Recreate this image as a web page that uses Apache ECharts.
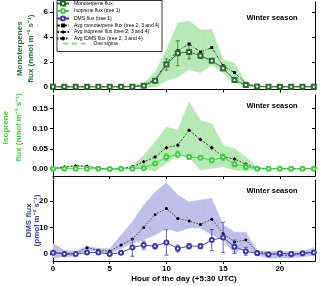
<!DOCTYPE html>
<html><head><meta charset="utf-8">
<script src="https://cdn.jsdelivr.net/npm/echarts@6/dist/echarts.min.js"></script>
<style>html,body{margin:0;padding:0;background:#fff}#c{width:320px;height:286px}</style>
</head><body><div id="c"></div>
<script>
// ---------- data ----------
const hours = [0,1,2,3,4,5,6,7,8,9,10,11,12,13,14,15,16,17,18,19,20,21,22,23];
const xTicks = [0,5,10,15,20];

// Panel 1: monoterpenes (nmol m-2 s-1)
const monoTree1    = [0.02,0.02,0.02,0.02,0.02,0.02,0.02,0.03,0.10,0.50,1.80,2.70,2.80,2.50,2.10,1.50,0.56,0.16,0.05,0.03,0.02,0.02,0.03,0.03];
const monoTree1Err = [0,0,0,0,0,0,0,0,0,0.15,0.45,1.00,0.55,0.20,0.10,0.20,0.10,0,0,0,0,0,0,0];
const monoAvg      = [0.02,0.02,0.02,0.02,0.02,0.02,0.02,0.05,0.15,0.60,1.90,2.90,3.44,2.80,3.15,1.70,1.15,0.30,0.05,0.02,0.02,0.02,0.02,0.02];
const monoSigUp    = [0.05,0.05,0.05,0.05,0.05,0.05,0.05,0.10,0.30,1.20,3.00,5.10,5.30,4.56,4.60,2.20,1.90,0.35,0.10,0.08,0.08,0.08,0.08,0.08];
const monoSigLo    = [-0.03,-0.03,-0.03,-0.03,-0.03,-0.03,-0.03,0,0,0,0.50,0.80,1.40,1.15,1.76,1.15,0.35,0.05,-0.03,-0.03,-0.03,-0.03,-0.03,-0.03];
const monoTicks = [0,2,4,6];

// Panel 2: isoprene (nmol m-2 s-1)
const isoTree1    = [0.001,0.001,0.001,0.001,0.001,0,0.001,0.001,0.003,0.014,0.030,0.036,0.030,0.028,0.022,0.029,0.012,0.006,0.001,0.001,0.001,0.001,0.001,0.001];
const isoTree1Err = [0,0,0,0,0,0,0,0,0,0.004,0.008,0.008,0.006,0.005,0.006,0.008,0.006,0.007,0,0,0,0,0,0];
const isoAvg      = [0.002,0.005,0.008,0.007,0.002,0,0.001,0.006,0.018,0.030,0.053,0.059,0.096,0.073,0.053,0.030,0.025,0.012,0.002,0.001,0.001,0.001,0.001,0.002];
const isoSigUp    = [0.004,0.007,0.010,0.009,0.004,0.002,0.003,0.008,0.034,0.067,0.104,0.096,0.166,0.120,0.112,0.059,0.051,0.030,0.005,0.002,0.002,0.002,0.002,0.003];
const isoSigLo    = [0,0.003,0.006,0.005,0,-0.002,-0.001,0.004,0,-0.005,0.015,0.034,0.030,-0.003,0.002,0.006,-0.002,-0.005,-0.001,0,0,0,0,0];
const isoTicks = [0,0.05,0.10,0.15];

// Panel 3: DMS (pmol m-2 s-1)
const dmsTree1    = [0.5,0,0,0.6,0.6,0,0.5,2.5,3.4,3.0,4.4,2.1,3.0,3.0,5.3,6.3,2.8,1.1,0.3,-0.1,0.3,0,0.3,0.6];
const dmsTree1Err = [0.5,0,0,0,0,0,0,3.3,1.5,1.0,4.8,1.3,1.0,1.0,4.0,5.7,2.5,1.5,0.3,0,0,0,0,0];
const dmsAvg      = [0.9,0.2,0.2,2.4,1.5,1.1,3.4,5.7,10.1,15.0,17.2,13.5,12.5,11.2,13.2,7.8,4.6,5.3,0.9,0.3,-0.4,-0.6,0.2,0.9];
const dmsSigUp    = [4.0,1.5,1.2,3.0,2.2,2.0,7.2,12.2,18.5,23.5,27.0,22.3,19.7,20.4,21.0,11.0,8.4,8.2,1.5,1.0,1.0,1.0,1.0,2.5];
const dmsSigLo    = [-1.5,-1.0,-0.8,1.8,0.8,0.2,2.1,4.0,5.5,7.2,9.7,8.4,9.9,9.9,7.2,5.3,0.3,2.8,-0.5,-1.5,-1.5,-1.5,-1.0,-0.5];
const dmsTicks = [0,10,20];

// ---------- styling ----------
const FONT = 'Liberation Sans, Arial, sans-serif';
const C_MONO = '#2c6e36', C_ISO = '#3fcf3f', C_DMS = '#3c3ca8';
const BAND_GREEN = '#b6e9b6', BAND_BLUE = '#bfbfe9';

const grids = [
  {left:53, width:262, top:2,   height:87.5},
  {left:53, width:262, top:95,  height:81},
  {left:53, width:262, top:180, height:81}
];
const yRanges = [[-0.2,6.8],[-0.017,0.183],[-2.6,28]];
const yTicks = [monoTicks, isoTicks, dmsTicks];
const yFmt = [v=>String(v), v=>v.toFixed(2), v=>String(v)];
const yNames = ['Monoterpenes\nflux (nmol m\u207B\u00B2 s\u207B\u00B9)',
                'Isoprene\nflux (nmol m\u207B\u00B2 s\u207B\u00B9)',
                'DMS flux\n(pmol m\u207B\u00B2 s\u207B\u00B9)'];
const yNameColors = [C_MONO, C_ISO, C_DMS];
const yNameGap = [16.5, 27.5, 11.5];
const yNameLH = [11, 13, 8.5];
const yNamePad = [[0,6,0,0],[0,0,0,16],[0,0,0,0]];

const xAxes = grids.map((g,i)=>({
  type:'value', gridIndex:i, min:0, max:23.1,
  axisLine:{show:true, onZero:false, lineStyle:{color:'#000', width:1}},
  axisTick:{show:true, inside:false, length:3, customValues:xTicks, lineStyle:{color:'#000'}},
  axisLabel:{show:i===2, customValues:xTicks, margin:4, color:'#000', fontFamily:FONT, fontWeight:'bold', fontSize:8},
  splitLine:{show:false},
  name: i===2 ? 'Hour of the day (+5:30 UTC)' : '',
  nameLocation:'middle', nameGap:14,
  nameTextStyle:{color:'#000', fontFamily:FONT, fontWeight:'bold', fontSize:8}
}));

const yAxes = [];
grids.forEach((g,i)=>{
  yAxes.push({
    type:'value', gridIndex:i, position:'left', min:yRanges[i][0], max:yRanges[i][1],
    axisLine:{show:true, onZero:false, lineStyle:{color:'#000', width:1}},
    axisTick:{show:true, inside:false, length:3, customValues:yTicks[i], lineStyle:{color:'#000'}},
    axisLabel:{show:true, customValues:yTicks[i], formatter:yFmt[i], margin:5, color:'#000', fontFamily:FONT, fontWeight:'bold', fontSize:8},
    splitLine:{show:false},
    name:yNames[i], nameLocation:'middle', nameGap:yNameGap[i], nameMoveOverlap:false,
    nameTextStyle:{color:yNameColors[i], fontFamily:FONT, fontWeight:'bold', fontSize:8, lineHeight:yNameLH[i], padding:yNamePad[i]}
  });
  yAxes.push({
    type:'value', gridIndex:i, position:'right', min:yRanges[i][0], max:yRanges[i][1],
    axisLine:{show:true, onZero:false, lineStyle:{color:'#000', width:1}},
    axisTick:{show:true, inside:true, length:3, customValues:yTicks[i], lineStyle:{color:'#000'}},
    axisLabel:{show:false}, splitLine:{show:false}
  });
});

function pairs(ys){ return hours.map((h,k)=>[h, ys[k]]); }
// band segments: [x0, lo0, up0, x1, lo1, up1]
function bandData(up, lo){
  const out = [];
  for (let k = 0; k < hours.length - 1; k++) out.push([hours[k], lo[k], up[k], hours[k+1], lo[k+1], up[k+1]]);
  return out;
}
function bandRender(color){
  return function(params, api){
    const a = api.coord([api.value(0), api.value(2)]);
    const b = api.coord([api.value(3), api.value(5)]);
    const c = api.coord([api.value(3), api.value(4)]);
    const d = api.coord([api.value(0), api.value(1)]);
    return {type:'polygon', shape:{points:[a,b,c,d]}, style:{fill:color, stroke:color, lineWidth:0.5}};
  };
}
function errData(vals, errs){
  const out = [];
  hours.forEach((h,k)=>{ if (errs[k] > 0) out.push([h, vals[k]-errs[k], vals[k]+errs[k]]); });
  return out;
}
function errRender(color){
  return function(params, api){
    const x = api.value(0), lo = api.value(1), hi = api.value(2);
    const p1 = api.coord([x, lo]), p2 = api.coord([x, hi]);
    const w = 2;
    const st = {stroke:color, lineWidth:0.8};
    return {type:'group', children:[
      {type:'line', shape:{x1:p1[0], y1:p1[1], x2:p2[0], y2:p2[1]}, style:st},
      {type:'line', shape:{x1:p1[0]-w, y1:p1[1], x2:p1[0]+w, y2:p1[1]}, style:st},
      {type:'line', shape:{x1:p2[0]-w, y1:p2[1], x2:p2[0]+w, y2:p2[1]}, style:st}
    ]};
  };
}

const panels = [
  {tree:monoTree1, err:monoTree1Err, avg:monoAvg, up:monoSigUp, lo:monoSigLo, color:C_MONO, band:BAND_GREEN,
   treeName:'Monoterpene flux', avgName:'Avg monoterpene flux (tree 2, 3 and 4)', sym:'emptyRect', avgSym:'rect', dash:[3,1.5,1,1.5], avgSize:3},
  {tree:isoTree1, err:isoTree1Err, avg:isoAvg, up:isoSigUp, lo:isoSigLo, color:C_ISO, band:BAND_GREEN,
   treeName:'Isoprene flux (tree 1)', avgName:'Avg isoprene flux (tree 2, 3 and 4)', sym:'emptyCircle', avgSym:'diamond', dash:[2,1.5], avgSize:4},
  {tree:dmsTree1, err:dmsTree1Err, avg:dmsAvg, up:dmsSigUp, lo:dmsSigLo, color:C_DMS, band:BAND_BLUE,
   treeName:'DMS flux (tree 1)', avgName:'Avg IDMS flux (tree 2, 3 and 4)', sym:'emptyCircle', avgSym:'circle', dash:[1.5,1.5], avgSize:3}
];

const series = [];
panels.forEach((p,i)=>{
  const xi = i, yi = 2*i;
  series.push({type:'custom', name:'One sigma', xAxisIndex:xi, yAxisIndex:yi, data:bandData(p.up, p.lo),
    encode:{x:[0,3], y:[1,2,4,5]}, renderItem:bandRender(p.band), color:p.band, silent:true, z:1});
  series.push({type:'line', name:p.avgName, xAxisIndex:xi, yAxisIndex:yi, data:pairs(p.avg),
    symbol:p.avgSym, symbolSize:p.avgSize, color:'#000', itemStyle:{color:'#000'},
    lineStyle:{color:'#222', width:0.8, type:p.dash}, z:3});
  series.push({type:'custom', name:'err'+i, xAxisIndex:xi, yAxisIndex:yi, data:errData(p.tree, p.err),
    encode:{x:0, y:[1,2]}, renderItem:errRender(p.color), z:4, silent:true});
  series.push({type:'line', name:p.treeName, xAxisIndex:xi, yAxisIndex:yi, data:pairs(p.tree),
    symbol:p.sym, symbolSize:4, color:p.color, itemStyle:{color:p.color, borderWidth:0.8},
    lineStyle:{color:p.color, width:0.9}, z:5});
});

const legendText = {fontSize:5, lineHeight:5, color:'#000', fontFamily:FONT};
const option = {
  animation:false,
  backgroundColor:'#fff',
  grid: grids.map(g=>Object.assign({outerBoundsMode:'none'}, g)),
  xAxis: xAxes,
  yAxis: yAxes,
  legend: [
    {orient:'vertical', left:56, top:0.5, padding:0, itemWidth:12, itemHeight:5, itemGap:1.5,
     textStyle:legendText, selectedMode:false,
     data:['Monoterpene flux','Isoprene flux (tree 1)','DMS flux (tree 1)',
           'Avg monoterpene flux (tree 2, 3 and 4)','Avg isoprene flux (tree 2, 3 and 4)','Avg IDMS flux (tree 2, 3 and 4)']},
    {orient:'vertical', left:63, top:41, padding:0, itemWidth:28, itemHeight:2, itemGap:0,
     textStyle:legendText, selectedMode:false,
     data:[{name:'One sigma', icon:'path://M0,0h5v2h-5zM9,0h5v2h-5zM18,0h5v2h-5z', itemStyle:{color:'#8fd88f'}}]}
  ],
  graphic: [
    {type:'rect', shape:{x:57, y:0.5, width:105, height:51}, style:{fill:'#fff', stroke:'#000', lineWidth:0.8}, z:-1, silent:true},
    {type:'text', x:272, y:18, style:{text:'Winter season', align:'center', verticalAlign:'middle', font:'bold 7.5px Liberation Sans, Arial', fill:'#000'}, z:10},
    {type:'text', x:272, y:105.5, style:{text:'Winter season', align:'center', verticalAlign:'middle', font:'bold 7.5px Liberation Sans, Arial', fill:'#000'}, z:10},
    {type:'text', x:272, y:191, style:{text:'Winter season', align:'center', verticalAlign:'middle', font:'bold 7.5px Liberation Sans, Arial', fill:'#000'}, z:10}
  ],
  series: series
};
const chart = echarts.init(document.getElementById('c'), null, {renderer:'canvas'});
chart.setOption(option);
</script>
</body></html>
